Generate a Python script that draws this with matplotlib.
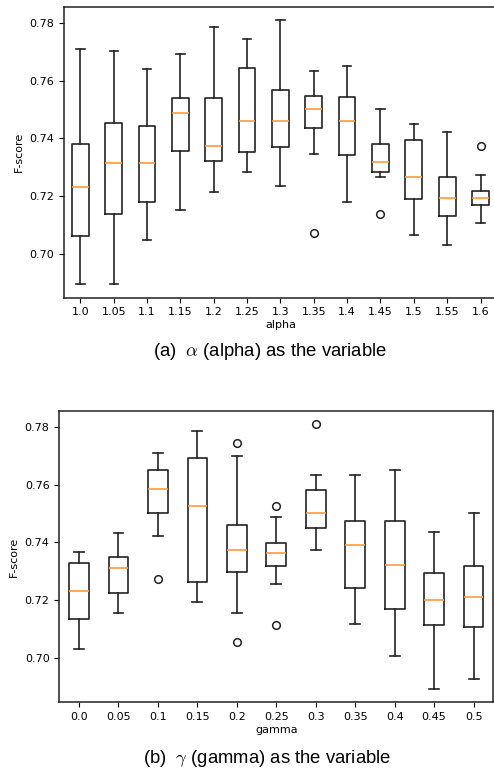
import matplotlib
matplotlib.use("Agg")
import matplotlib.pyplot as plt

# panel (a): alpha
alpha_labels = ['1.0', '1.05', '1.1', '1.15', '1.2', '1.25', '1.3', '1.35', '1.4', '1.45', '1.5', '1.55', '1.6']
alpha_low  = [0.6893, 0.6893, 0.7046, 0.7150, 0.7212, 0.7283, 0.7235, 0.7345, 0.7180, 0.7265, 0.7066, 0.7030, 0.7106]
alpha_q1   = [0.7062, 0.7136, 0.7180, 0.7356, 0.7321, 0.7351, 0.7368, 0.7435, 0.7342, 0.7282, 0.7190, 0.7130, 0.7168]
alpha_med  = [0.7231, 0.7313, 0.7313, 0.7487, 0.7373, 0.7460, 0.7460, 0.7502, 0.7460, 0.7318, 0.7265, 0.7192, 0.7192]
alpha_q3   = [0.7381, 0.7451, 0.7443, 0.7541, 0.7541, 0.7643, 0.7566, 0.7548, 0.7544, 0.7379, 0.7393, 0.7267, 0.7218]
alpha_high = [0.7710, 0.7702, 0.7640, 0.7693, 0.7785, 0.7744, 0.7810, 0.7634, 0.7650, 0.7502, 0.7450, 0.7422, 0.7273]
alpha_fliers = [[], [], [], [], [], [], [], [0.7071], [], [0.7137], [], [], [0.7373]]

# panel (b): gamma
gamma_labels = ['0.0', '0.05', '0.1', '0.15', '0.2', '0.25', '0.3', '0.35', '0.4', '0.45', '0.5']
gamma_low  = [0.7031, 0.7158, 0.7422, 0.7194, 0.7158, 0.7255, 0.7373, 0.7120, 0.7007, 0.6894, 0.6928]
gamma_q1   = [0.7136, 0.7226, 0.7500, 0.7265, 0.7299, 0.7319, 0.7450, 0.7244, 0.7172, 0.7115, 0.7107]
gamma_med  = [0.7232, 0.7313, 0.7583, 0.7526, 0.7373, 0.7363, 0.7502, 0.7392, 0.7322, 0.7200, 0.7213]
gamma_q3   = [0.7329, 0.7351, 0.7650, 0.7691, 0.7460, 0.7399, 0.7580, 0.7473, 0.7473, 0.7295, 0.7319]
gamma_high = [0.7367, 0.7433, 0.7710, 0.7784, 0.7698, 0.7488, 0.7634, 0.7634, 0.7651, 0.7436, 0.7502]
gamma_fliers = [[], [], [0.7273], [], [0.7744, 0.7056], [0.7526, 0.7115], [0.7808], [], [], [], []]

plt.rcParams['font.size'] = 8
plt.rcParams['mathtext.fontset'] = 'cm'

fig = plt.figure(figsize=(4.94, 7.69), dpi=100)
W, H = 494, 769

def stats(low, q1, med, q3, high, fliers):
    return [dict(whislo=a, q1=b, med=c, q3=d, whishi=e, fliers=f)
            for a, b, c, d, e, f in zip(low, q1, med, q3, high, fliers)]

def draw(ax, st, labels, xlabel):
    lw = 1.2
    ax.bxp(st, widths=0.5, showfliers=True,
           boxprops=dict(color='#222222', linewidth=lw),
           whiskerprops=dict(color='#222222', linewidth=lw),
           capprops=dict(color='#222222', linewidth=lw),
           medianprops=dict(color='#ff9a3c', linewidth=lw),
           flierprops=dict(marker='o', markerfacecolor='none',
                           markeredgecolor='#222222', markersize=5.5, markeredgewidth=1.1))
    ax.set_xticks(range(1, len(labels) + 1))
    ax.set_xticklabels(labels)
    ax.set_xlabel(xlabel, labelpad=2)
    ax.set_ylabel('F-score')
    ax.set_yticks([0.70, 0.72, 0.74, 0.76, 0.78])
    for s in ax.spines.values():
        s.set_linewidth(1.1)
        s.set_color('#222222')

# top axes: x 63.7 -> 497, y 6.7 -> 297.7 (right spine falls off the image)
ax1 = fig.add_axes([63.7 / W, 1 - 297.7 / H, 433.5 / W, 291.0 / H])
draw(ax1, stats(alpha_low, alpha_q1, alpha_med, alpha_q3, alpha_high, alpha_fliers),
     alpha_labels, 'alpha')

# bottom axes: x 59.3 -> 493.3, y 411 -> 702.3
ax2 = fig.add_axes([59.3 / W, 1 - 702.3 / H, 434.0 / W, 291.3 / H])
draw(ax2, stats(gamma_low, gamma_q1, gamma_med, gamma_q3, gamma_high, gamma_fliers),
     gamma_labels, 'gamma')

fig.text(270 / W, 1 - 351.5 / H, r'(a)  $\alpha$ (alpha) as the variable',
         ha='center', va='center', fontsize=13.3, family='Liberation Sans')
fig.text(267 / W, 1 - 758.5 / H, r'(b)  $\gamma$ (gamma) as the variable',
         ha='center', va='center', fontsize=13.3, family='Liberation Sans')

fig.savefig('out.png', dpi=100)
